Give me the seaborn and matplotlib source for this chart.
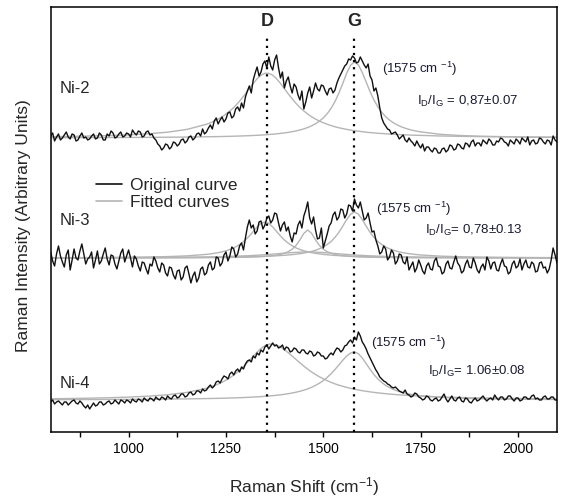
import matplotlib
matplotlib.use("Agg")
import matplotlib.pyplot as plt
from matplotlib import font_manager as fm
from matplotlib.lines import Line2D
from matplotlib.ticker import MultipleLocator
import pandas as pd
import seaborn as sns

# ---------------- data ----------------
SAMPLES = ["Ni-2", "Ni-3", "Ni-4"]
SHIFT = list(range(800, 2101, 5))          # Raman shift, cm-1

NI2 = [2, 5, -3, 1, 4, -2, 0, 3, 6, 1, -1, 4, 3, -3, -2, 2, 5, 0, 1, -2,
       -1, 2, 4, -1, 0, 5, 3, -2, -2, 4, 2, 7, 5, 0, 1, 4, 6, 1, 2, 5,
       4, 1, 8, 5, 3, 7, 6, 1, 2, 6, 7, 3, 4, 0, -2, -6, -8, -12, -10, -6,
       -7, -11, -9, -4, -5, -8, -6, -2, -1, -5, -3, 1, 2, -2, 0, 4, 5, 2, 9, 4,
       6, 10, 13, 9, 17, 20, 14, 18, 21, 16, 19, 25, 26, 20, 22, 29, 31, 27, 35, 30,
       41, 47, 52, 45, 58, 65, 71, 62, 66, 74, 77, 70, 81, 72, 68, 78, 83, 70, 60, 66,
       50, 57, 61, 52, 45, 54, 51, 43, 38, 47, 29, 36, 45, 51, 40, 47, 55, 49, 47, 53,
       52, 47, 43, 49, 50, 45, 48, 55, 60, 64, 68, 72, 74, 79, 78, 82, 80, 75, 76, 81,
       77, 73, 70, 74, 62, 58, 47, 50, 42, 30, 20, 15, 12, 9, 8, 4, 5, 6, 3, -1,
       1, 3, -2, -4, 0, -3, -5, -8, -3, -7, -10, -6, -13, -9, -9, -12, -14, -10, -11, -15,
       -15, -11, -10, -14, -12, -7, -8, -12, -11, -6, -7, -10, -11, -5, -6, -9, -4, -2, -8, -5,
       -5, -8, -2, -4, -6, -1, -3, -7, -7, -3, -4, 0, -1, -4, -5, -8, -2, -4, -6, -1,
       -3, -6, 0, -2, -4, 1, -7, -3, -2, -6, -5, 0, -1, -4, -6, -2, -3, -7, 2, -2,
       -4]
NI3 = [6, -3, -8, 4, 12, 2, -4, -9, 3, 8, -12, -2, 9, 0, -2, 7, 14, 4, -6, -1,
       1, 6, -10, -2, 7, -6, -3, 4, 10, -1, -7, 3, 2, -6, -11, -3, 5, 9, -4, 2,
       8, 0, -9, 2, -1, -8, -13, -4, -5, -11, -16, -6, -8, 1, -3, -10, -14, -5, -7, -15,
       -18, -9, -10, -17, -21, -13, -12, -22, -19, -10, -8, -16, -25, -18, -14, -24, -20, -11, -9, -17,
       -15, -7, -4, -12, -10, 1, 0, -8, -5, 3, 6, -3, 2, 11, 9, 1, 4, 12, 15, 8,
       20, 31, 38, 30, 33, 24, 27, 36, 37, 29, 33, 40, 42, 35, 38, 45, 44, 35, 27, 33,
       36, 27, 31, 22, 16, 25, 24, 33, 37, 30, 42, 48, 56, 40, 34, 41, 28, 19, 20, 30,
       10, 17, 24, 32, 35, 43, 46, 38, 41, 49, 48, 40, 44, 53, 52, 47, 59, 53, 50, 56,
       47, 38, 40, 45, 35, 26, 27, 18, 12, 4, 6, 12, 9, -2, 1, 8, 5, -6, -3, 4,
       3, -4, -6, 1, -12, -8, -4, -14, -10, -2, -7, -13, -16, -8, -5, -11, -12, -3, 0, -8,
       -9, -16, -14, -6, -3, -10, -11, -4, 2, -5, -8, -15, -13, -6, -2, -9, -10, 0, -5, -12,
       -15, -9, -6, -12, 1, -3, -11, -5, -4, -12, -13, -6, -1, -8, -9, -16, -14, -6, -3, -10,
       -8, -1, -12, -6, -2, -9, -10, -4, -6, -14, -13, -5, -4, -10, -9, -15, -11, -2, 10, 3,
       -5]
NI4 = [-2, 0, -4, -2, -1, -3, -5, -2, -2, -5, -3, -1, 0, -3, -4, -1, -3, -6, -8, -5,
       -9, -6, -3, -6, -5, -2, -2, -5, -4, -2, -1, -4, -3, 0, -2, -4, 0, -1, -3, 0,
       -1, -3, 1, -1, -2, 1, 0, -2, 2, 0, -1, 2, 1, -1, 3, 1, 0, 3, 2, 0,
       4, 2, 1, 4, 5, 2, 3, 6, 6, 3, 4, 7, 8, 5, 6, 9, 9, 7, 11, 9,
       10, 13, 15, 12, 14, 18, 19, 17, 21, 24, 23, 21, 26, 28, 25, 29, 31, 28, 33, 31,
       36, 39, 40, 38, 44, 42, 47, 45, 50, 48, 53, 55, 51, 54, 57, 54, 55, 52, 53, 55,
       50, 53, 52, 48, 49, 52, 51, 48, 47, 50, 50, 47, 46, 49, 48, 44, 45, 48, 47, 44,
       44, 41, 42, 45, 47, 45, 49, 52, 51, 48, 50, 54, 55, 58, 60, 57, 63, 60, 68, 64,
       58, 55, 51, 46, 42, 38, 34, 30, 27, 23, 21, 19, 18, 16, 15, 13, 12, 13, 11, 9,
       8, 7, 10, 6, 5, 3, 4, 7, 6, 3, 2, 0, 1, 4, 3, 0, -1, 1, 2, -1,
       0, 3, 6, 1, -2, 1, 4, 0, -1, 2, 3, -1, -2, 2, 1, -2, -3, 0, 2, -1,
       0, 2, 4, 1, -1, 1, 2, 0, 5, 2, 0, 3, 3, 0, 1, 4, 4, 1, -1, 2,
       2, -1, 0, 3, 3, 1, 1, 4, 5, 1, 2, 0, 0, 3, 4, 1, 1, 3, 3, 0,
       0]

# fitted components, sampled on FIT_SHIFT
FIT_SHIFT = [800, 850, 900, 950, 1000, 1050, 1100, 1150] + \
            list(range(1200, 1751, 10)) + [1800, 1850, 1900, 1950, 2000, 2050, 2100]

NI2_D = [1.3, 1.6, 2.0, 2.4, 3.1, 4.2, 5.8, 8.6,
         13.7, 15.2, 16.9, 18.9, 21.2, 23.9, 27.0, 30.5, 34.6, 39.2,
         44.1, 49.4, 54.6, 59.2, 62.8, 64.7, 64.7, 62.8, 59.2, 54.6,
         49.4, 44.1, 39.2, 34.6, 30.5, 27.0, 23.9, 21.2, 18.9, 16.9,
         15.2, 13.7, 12.4, 11.2, 10.2, 9.4, 8.6, 7.9, 7.3, 6.8,
         6.3, 5.8, 5.4, 5.1, 4.7, 4.5, 4.2, 3.9, 3.7, 3.5,
         3.3, 3.1, 3.0, 2.8, 2.7, 2.6,
         2.0, 1.7, 1.4, 1.2, 1.0, 0.85, 0.74]
NI2_G = [0.29, 0.33, 0.38, 0.44, 0.52, 0.62, 0.75, 0.94,
         1.19, 1.26, 1.33, 1.40, 1.49, 1.57, 1.67, 1.78, 1.90, 2.03,
         2.17, 2.33, 2.50, 2.70, 2.92, 3.17, 3.45, 3.77, 4.14, 4.56,
         5.05, 5.61, 6.28, 7.06, 7.99, 9.12, 10.5, 12.2, 14.2, 16.8,
         20.1, 24.3, 29.7, 36.5, 44.9, 54.6, 64.8, 72.8, 76.0, 73.1,
         65.5, 55.9, 46.3, 38.0, 31.1, 25.7, 21.3, 17.9, 15.2, 13.0,
         11.2, 9.8, 8.6, 7.6, 6.8, 6.1,
         3.7, 2.5, 1.8, 1.4, 1.06, 0.85, 0.70]
NI3_D = [0.30, 0.36, 0.44, 0.55, 0.72, 0.97, 1.38, 2.12,
         3.6, 4.07, 4.64, 5.33, 6.16, 7.2, 8.49, 10.1, 12.2, 14.8,
         18.0, 22.0, 26.5, 31.0, 34.6, 36.0, 34.6, 31.0, 26.5, 22.0,
         18.0, 14.8, 12.2, 10.1, 8.49, 7.2, 6.16, 5.33, 4.64, 4.07,
         3.6, 3.2, 2.87, 2.58, 2.33, 2.12, 1.93, 1.77, 1.62, 1.50,
         1.38, 1.28, 1.19, 1.11, 1.04, 0.97, 0.91, 0.86, 0.81, 0.76,
         0.72, 0.68, 0.65, 0.61, 0.58, 0.55,
         0.44, 0.36, 0.30, 0.25, 0.21, 0.18, 0.16]
NI3_M = [0.05, 0.05, 0.07, 0.08, 0.10, 0.12, 0.16, 0.21,
         0.30, 0.32, 0.35, 0.38, 0.42, 0.46, 0.50, 0.55, 0.62, 0.69,
         0.78, 0.88, 1.0, 1.16, 1.35, 1.59, 1.90, 2.31, 2.86, 3.63,
         4.71, 6.32, 8.78, 12.6, 18.1, 24.6, 28.0, 24.6, 18.1, 12.6,
         8.78, 6.32, 4.71, 3.63, 2.86, 2.31, 1.90, 1.59, 1.35, 1.16,
         1.0, 0.88, 0.78, 0.69, 0.62, 0.55, 0.50, 0.46, 0.42, 0.38,
         0.35, 0.32, 0.30, 0.27, 0.26, 0.24,
         0.18, 0.14, 0.11, 0.09, 0.07, 0.06, 0.06]
NI3_G = [0.15, 0.17, 0.20, 0.23, 0.28, 0.33, 0.40, 0.50,
         0.64, 0.67, 0.71, 0.75, 0.79, 0.84, 0.89, 0.95, 1.01, 1.08,
         1.16, 1.24, 1.34, 1.44, 1.56, 1.70, 1.85, 2.02, 2.22, 2.45,
         2.71, 3.01, 3.37, 3.80, 4.31, 4.92, 5.67, 6.59, 7.74, 9.2,
         11.1, 13.5, 16.5, 20.6, 25.7, 31.9, 38.4, 43.8, 46.0, 43.8,
         38.4, 31.9, 25.7, 20.6, 16.5, 13.5, 11.1, 9.2, 7.74, 6.59,
         5.67, 4.92, 4.31, 3.80, 3.37, 3.01,
         1.85, 1.24, 0.89, 0.67, 0.52, 0.42, 0.34]
NI3_B = [0.19, 0.22, 0.26, 0.31, 0.38, 0.47, 0.60, 0.78,
         1.05, 1.12, 1.2, 1.28, 1.38, 1.48, 1.59, 1.71, 1.85, 2.0,
         2.16, 2.34, 2.54, 2.76, 3.0, 3.26, 3.55, 3.84, 4.15, 4.48,
         4.8, 5.11, 5.4, 5.65, 5.84, 5.96, 6.0, 5.96, 5.84, 5.65,
         5.4, 5.11, 4.8, 4.48, 4.15, 3.84, 3.55, 3.26, 3.0, 2.76,
         2.54, 2.34, 2.16, 2.0, 1.85, 1.71, 1.59, 1.48, 1.38, 1.28,
         1.2, 1.12, 1.05, 0.98, 0.92, 0.87,
         0.66, 0.52, 0.42, 0.34, 0.28, 0.24, 0.2]
NI4_D = [1.24, 1.49, 1.81, 2.26, 2.88, 3.8, 5.2, 7.6,
         11.7, 12.9, 14.3, 15.9, 17.7, 19.8, 22.2, 24.9, 28.0, 31.5,
         35.3, 39.5, 43.7, 47.9, 51.5, 54.3, 55.8, 55.9, 54.9, 53.0,
         50.4, 47.3, 43.9, 40.5, 37.1, 33.8, 30.8, 28.0, 25.5, 23.2,
         21.1, 19.3, 17.6, 16.1, 14.8, 13.7, 12.6, 11.6, 10.8, 10.0,
         9.3, 8.7, 8.1, 7.6, 7.1, 6.7, 6.3, 5.9, 5.6, 5.3,
         5.0, 4.75, 4.5, 4.28, 4.07, 3.88,
         3.08, 2.5, 2.08, 1.75, 1.49, 1.28, 1.12]
NI4_G = [0.34, 0.39, 0.45, 0.52, 0.61, 0.73, 0.89, 1.1,
         1.41, 1.48, 1.56, 1.65, 1.75, 1.85, 1.96, 2.08, 2.22, 2.36,
         2.53, 2.71, 2.91, 3.13, 3.38, 3.65, 3.96, 4.32, 4.72, 5.17,
         5.69, 6.28, 6.98, 7.78, 8.73, 9.84, 11.1, 12.7, 14.6, 16.8,
         19.4, 22.6, 26.3, 30.5, 35.1, 39.8, 44.0, 46.9, 48.0, 46.3,
         42.0, 36.4, 30.6, 25.4, 21.0, 17.5, 14.6, 12.4, 10.5, 9.0,
         7.8, 6.8, 6.0, 5.3, 4.75, 4.25,
         2.64, 1.78, 1.28, 0.97, 0.75, 0.6, 0.49]

PEAK_LINES = [1355, 1580]            # D and G band positions
PEAK_NAMES = ["D", "G"]
PEAK_TEXT = ["(1575 cm $^{-1}$)"] * 3
RATIO_TEXT = ["I$_\\mathrm{D}$/I$_\\mathrm{G}$ = 0,87±0.07",
              "I$_\\mathrm{D}$/I$_\\mathrm{G}$= 0,78±0.13",
              "I$_\\mathrm{D}$/I$_\\mathrm{G}$= 1.06±0.08"]

# ---------------- layout ----------------
OFFSETS = {"Ni-2": 294, "Ni-3": 174, "Ni-4": 32}
FITS = {"Ni-2": [NI2_D, NI2_G],
        "Ni-3": [NI3_D, NI3_M, NI3_G, NI3_B],
        "Ni-4": [NI4_D, NI4_G]}
RAW = {"Ni-2": NI2, "Ni-3": NI3, "Ni-4": NI4}

sns.set_style("white")
names = {f.name for f in fm.fontManager.ttflist}
SANS = "Liberation Sans" if "Liberation Sans" in names else "DejaVu Sans"
NARROW = "Liberation Sans Narrow" if "Liberation Sans Narrow" in names else SANS
plt.rcParams["font.family"] = [SANS, "DejaVu Sans"]
plt.rcParams["mathtext.fontset"] = "custom"
plt.rcParams["mathtext.rm"] = SANS
plt.rcParams["mathtext.it"] = SANS + ":italic"
plt.rcParams["mathtext.bf"] = SANS + ":bold"

rows = []
for s in SAMPLES:
    for x, v in zip(SHIFT, RAW[s]):
        rows.append((s, x, v + OFFSETS[s]))
raw_df = pd.DataFrame(rows, columns=["sample", "shift", "intensity"])

rows = []
for s in SAMPLES:
    for k, comp in enumerate(FITS[s]):
        for x, v in zip(FIT_SHIFT, comp):
            rows.append((f"{s}-{k}", x, v + OFFSETS[s]))
fit_df = pd.DataFrame(rows, columns=["component", "shift", "intensity"])

fig = plt.figure(figsize=(5.62, 4.99), dpi=100)
ax = fig.add_axes([0.0902, 0.1343, 0.9911 - 0.0902, 0.9854 - 0.1343])

GRAY = "#b5b5b5"
BLACK = "#111111"
sns.lineplot(data=fit_df, x="shift", y="intensity", units="component",
             estimator=None, color=GRAY, lw=1.0, ax=ax, sort=False)
sns.lineplot(data=raw_df, x="shift", y="intensity", units="sample",
             estimator=None, color=BLACK, lw=1.0, ax=ax, sort=False)

ax.vlines(PEAK_LINES, 0, 395, colors="black", lw=1.6, linestyles=(0, (1, 2.2)))
for x, n in zip(PEAK_LINES, PEAK_NAMES):
    ax.text(x, 410, n, ha="center", va="center", fontsize=13,
            fontweight="bold", family=[NARROW, "DejaVu Sans"])

ni_y = [343, 211, 48]
pk_pos = [(1651, 359), (1636, 219), (1622, 85)]
ra_pos = [(1740, 327), (1760, 198), (1768, 57)]
for s, y, (px, py), (rx, ry), pt, rt in zip(SAMPLES, ni_y, pk_pos, ra_pos,
                                              PEAK_TEXT, RATIO_TEXT):
    ax.text(824, y, s, ha="left", va="center", fontsize=12)
    ax.text(px, py, pt, ha="left", va="baseline", fontsize=9.5, color="#1a1a30")
    ax.text(rx, ry, rt, ha="left", va="baseline", fontsize=9.5, color="#1a1a30")

handles = [Line2D([], [], color=BLACK, lw=1.2), Line2D([], [], color=GRAY, lw=1.2)]
ax.legend(handles, ["Original curve", "Fitted curves"], loc="upper left",
          bbox_to_anchor=(0.170, 0.6427), bbox_transform=fig.transFigure,
          frameon=False, fontsize=12.5, borderpad=0, borderaxespad=0,
          handlelength=1.55, handletextpad=0.43, labelspacing=0.1)

ax.set_xlim(800, 2100)
ax.set_ylim(0, 424.7)
ax.set_yticks([])
ax.xaxis.set_major_locator(MultipleLocator(250))
ax.xaxis.set_minor_locator(MultipleLocator(125))
ax.tick_params(axis="x", which="both", direction="out", length=3.5, width=1.0,
               bottom=True, top=False, labelsize=10, pad=4, colors="black")
for sp in ax.spines.values():
    sp.set_color("black")
    sp.set_linewidth(1.1)

ax.set_xlabel("Raman Shift (cm$^{-1}$)", fontsize=12.5)
ax.set_ylabel("Raman Intensity (Arbitrary Units)", fontsize=12.5)
ax.xaxis.set_label_coords(0.5, -0.102)
ax.yaxis.set_label_coords(-0.0395, 0.485)

fig.savefig("out.png", dpi=100)
